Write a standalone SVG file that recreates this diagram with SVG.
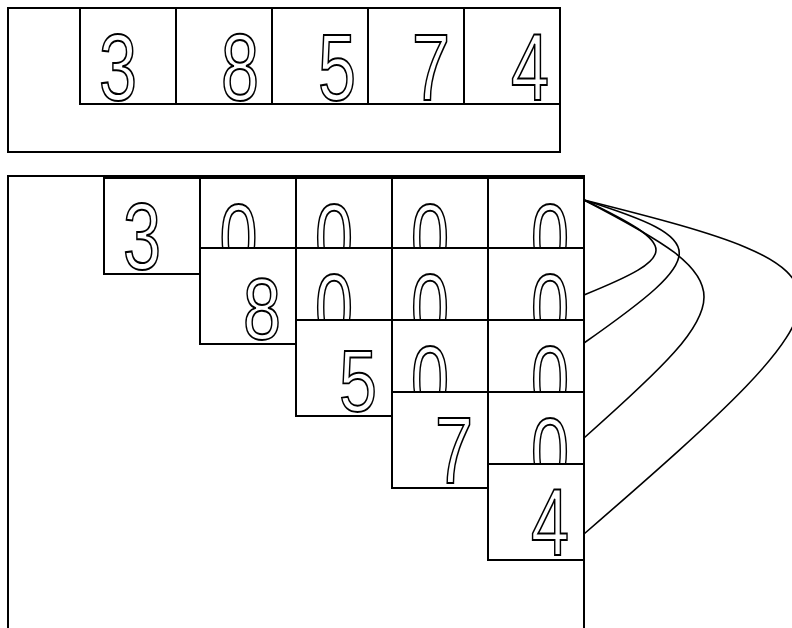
<svg xmlns="http://www.w3.org/2000/svg" width="792" height="628" viewBox="0 0 792 628">
<style>
.cell{fill:#fff;stroke:#000;stroke-width:2}
.frame{fill:none;stroke:#000;stroke-width:2}
.d{font-family:"Liberation Sans",Arial,sans-serif;font-size:95px;fill:#fff;stroke:#000;stroke-width:2;text-anchor:middle}
.link{fill:none;stroke:#000;stroke-width:1.6}
</style>
<rect width="792" height="628" fill="#fff"/>
<g id="top-array">
<rect class="frame" x="8" y="8" width="552" height="144"/>
<g id="t0"><rect class="cell" x="80" y="8" width="96" height="96"/><text class="d" transform="translate(118,100) scale(0.72,1)">3</text></g>
<g id="t1"><rect class="cell" x="176" y="8" width="96" height="96"/><text class="d" transform="translate(240,100) scale(0.72,1)">8</text></g>
<g id="t2"><rect class="cell" x="272" y="8" width="96" height="96"/><text class="d" transform="translate(337,100) scale(0.72,1)">5</text></g>
<g id="t3"><rect class="cell" x="368" y="8" width="96" height="96"/><text class="d" transform="translate(431,100) scale(0.72,1)">7</text></g>
<g id="t4"><rect class="cell" x="464" y="8" width="96" height="96"/><text class="d" transform="translate(530,100) scale(0.72,1)">4</text></g>
</g>
<rect class="frame" x="8" y="176" width="576" height="470"/>
<g id="row0">
<g id="r0c0"><rect class="cell" x="104" y="178" width="96" height="96"/><text class="d" transform="translate(142,269) scale(0.72,1)">3</text></g>
<g id="r0c1"><rect class="cell" x="200" y="178" width="96" height="96"/><text class="d" transform="translate(238.5,270) scale(0.72,1)">0</text></g>
<g id="r0c2"><rect class="cell" x="296" y="178" width="96" height="96"/><text class="d" transform="translate(334,270) scale(0.72,1)">0</text></g>
<g id="r0c3"><rect class="cell" x="392" y="178" width="96" height="96"/><text class="d" transform="translate(430,270) scale(0.72,1)">0</text></g>
<g id="r0c4"><rect class="cell" x="488" y="178" width="96" height="96"/><text class="d" transform="translate(550,270) scale(0.72,1)">0</text></g>
</g>
<g id="row1">
<g id="r1c1"><rect class="cell" x="200" y="248" width="96" height="96"/><text class="d" transform="translate(262,339) scale(0.72,0.92)">8</text></g>
<g id="r1c2"><rect class="cell" x="296" y="248" width="96" height="96"/><text class="d" transform="translate(334,340) scale(0.72,1)">0</text></g>
<g id="r1c3"><rect class="cell" x="392" y="248" width="96" height="96"/><text class="d" transform="translate(430,340) scale(0.72,1)">0</text></g>
<g id="r1c4"><rect class="cell" x="488" y="248" width="96" height="96"/><text class="d" transform="translate(550,340) scale(0.72,1)">0</text></g>
</g>
<g id="row2">
<g id="r2c2"><rect class="cell" x="296" y="320" width="96" height="96"/><text class="d" transform="translate(358,411) scale(0.72,0.92)">5</text></g>
<g id="r2c3"><rect class="cell" x="392" y="320" width="96" height="96"/><text class="d" transform="translate(430,412) scale(0.72,1)">0</text></g>
<g id="r2c4"><rect class="cell" x="488" y="320" width="96" height="96"/><text class="d" transform="translate(550,412) scale(0.72,1)">0</text></g>
</g>
<g id="row3">
<g id="r3c3"><rect class="cell" x="392" y="392" width="96" height="96"/><text class="d" transform="translate(454,483) scale(0.72,1)">7</text></g>
<g id="r3c4"><rect class="cell" x="488" y="392" width="96" height="96"/><text class="d" transform="translate(550,484) scale(0.72,1)">0</text></g>
</g>
<g id="row4">
<g id="r4c4"><rect class="cell" x="488" y="464" width="96" height="96"/><text class="d" transform="translate(550,555) scale(0.72,1)">4</text></g>
</g>
<g id="connectors">
<path class="link" d="M584,200 C680,246 680,256 584,295"/>
<path class="link" d="M584,200 C711,240 711,254 584,343"/>
<path class="link" d="M584,200 C744,283 744,296 584,438"/>
<path class="link" d="M584,200 C872,272 872,284 584,534"/>
</g>
</svg>
